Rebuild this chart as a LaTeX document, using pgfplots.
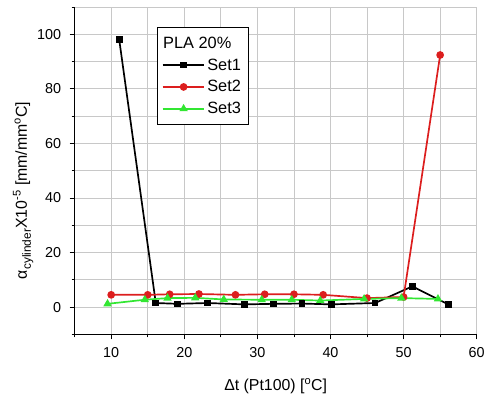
\documentclass[border=0pt]{standalone}
\usepackage{fontspec}
\setmainfont{Liberation Sans}
\usepackage{pgfplots}
\pgfplotsset{compat=1.18}
\definecolor{myred}{RGB}{220,30,30}
\definecolor{mygreen}{RGB}{50,230,50}
\definecolor{gridgray}{RGB}{200,200,200}
\begin{document}
\begin{tikzpicture}
\begin{axis}[
  scale only axis,
  width=404bp, height=329bp,
  xmin=5, xmax=60, ymin=-10, ymax=110,
  axis x line*=bottom, axis y line*=left,
  axis line style={line width=1.1pt},
  xtick={10,20,...,60}, minor xtick={5,15,...,55},
  ytick={0,20,...,100}, minor ytick={-10,10,...,110},
  tick align=outside,
  major tick length=5bp, minor tick length=3bp,
  tick style={black, line width=0.9pt},
  grid=both,
  major grid style={gridgray, line width=0.8pt},
  minor grid style={gridgray, line width=0.8pt},
  /pgf/number format/assume math mode=true,
  ticklabel style={font=\fontsize{14.5}{16}\selectfont},
  xticklabel style={yshift=-5bp},
  yticklabel style={xshift=-5bp},
  xlabel={Δt (Pt100) [\textsuperscript{o}C]},
  ylabel={α{\fontsize{12}{12}\selectfont\raisebox{-4bp}{cylinder}}X10\textsuperscript{-5} [mm/mm\textsuperscript{o}C]},
  label style={font=\fontsize{16}{18}\selectfont},
  xlabel style={at={(axis description cs:0.5,-0.158)}, anchor=center},
  ylabel style={at={(axis description cs:-0.128,0.44)}, anchor=center},
  legend cell align=left,
  legend style={at={(axis cs:16.2,102.5)}, anchor=north west, draw=black, fill=white,
    line width=0.8pt, font=\fontsize{16.5}{18}\selectfont, row sep=5bp,
    inner xsep=5bp, inner ysep=7bp},
  legend image code/.code={\draw[mark repeat=2,mark phase=2,#1] plot coordinates {(0cm,0cm) (0.74cm,0cm) (1.48cm,0cm)};},
]
\addlegendimage{legend image code/.code={\node[overlay,anchor=west,inner sep=0pt,font=\fontsize{16.5}{18}\selectfont] at (0cm,0cm) {PLA 20\%};}}
\addlegendentry{\phantom{Set1}}
\addplot[black, line width=1.7pt, mark=square*, mark size=2.5pt, mark options={solid}] coordinates {
(11.1,98) (16.1,1.5) (19.1,1.2) (23.2,1.5) (28.2,1.0) (32.2,1.2) (36.1,1.3) (40.1,1.0) (46.1,1.5) (51.2,7.6) (56.1,1.0)};
\addlegendentry{Set1}
\addplot[myred, line width=1.7pt, mark=*, mark size=3pt] coordinates {
(10,4.5) (15,4.5) (18,4.7) (22,4.8) (27,4.5) (31,4.7) (35,4.7) (39,4.5) (45,3.3) (50,3.7) (55,92.4)};
\addlegendentry{Set2}
\addplot[mygreen, line width=1.7pt, mark=triangle*, mark size=3.2pt] coordinates {
(9.5,1.2) (14.6,2.7) (17.7,3.3) (21.5,3.4) (25.4,2.8) (30.6,2.7) (34.7,2.7) (38.6,2.4) (44.6,3.0) (49.7,3.3) (54.7,3.0)};
\addlegendentry{Set3}
\end{axis}
\path (current axis.south west) ++(-75bp,-69bp);
\path (current axis.north east) ++(9bp,7bp);
\end{tikzpicture}
\end{document}
